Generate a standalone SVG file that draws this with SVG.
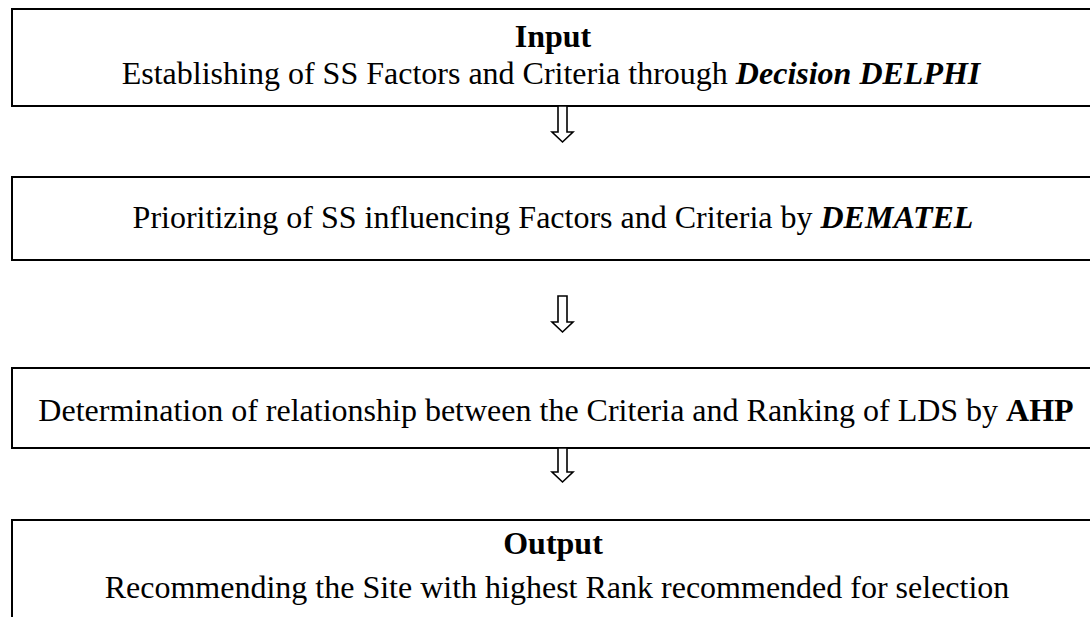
<svg xmlns="http://www.w3.org/2000/svg" width="1090" height="617" viewBox="0 0 1090 617">
<style>
.box{fill:#fff;stroke:#000;stroke-width:2}
.arr{fill:#fff;stroke:#000;stroke-width:1.6;stroke-linejoin:miter}
text{font-family:"Liberation Serif","Times New Roman",serif;font-size:32px;fill:#000;text-anchor:middle}
.b{font-weight:bold}
.bi{font-weight:bold;font-style:italic}
</style>
<rect width="1090" height="617" fill="#fff"/>
<g id="node-input">
<rect class="box" x="12" y="9" width="1090" height="97"/>
<text class="b" x="553" y="47">Input</text>
<text x="551" y="84">Establishing of SS Factors and Criteria through <tspan class="bi">Decision DELPHI</tspan></text>
</g>
<g id="node-dematel">
<rect class="box" x="12" y="177" width="1090" height="83"/>
<text x="553" y="228">Prioritizing of SS influencing Factors and Criteria by <tspan class="bi">DEMATEL</tspan></text>
</g>
<g id="node-ahp">
<rect class="box" x="12" y="368" width="1090" height="80"/>
<text x="556" y="421">Determination of relationship between the Criteria and Ranking of LDS by <tspan class="b">AHP</tspan></text>
</g>
<g id="node-output">
<rect class="box" x="12" y="520" width="1090" height="120"/>
<text class="b" x="553" y="554">Output</text>
<text x="557" y="598">Recommending the Site with highest Rank recommended for selection</text>
</g>
<g id="connectors">
<path class="arr" d="M558,106 V132 H552 L562.5,142 L573,132 H567 V106 Z"/>
<path class="arr" d="M558,296 V322 H552 L562.5,332 L573,322 H567 V296 Z"/>
<path class="arr" d="M558,448 V472 H552 L562.5,482 L573,472 H567 V448 Z"/>
</g>
</svg>
